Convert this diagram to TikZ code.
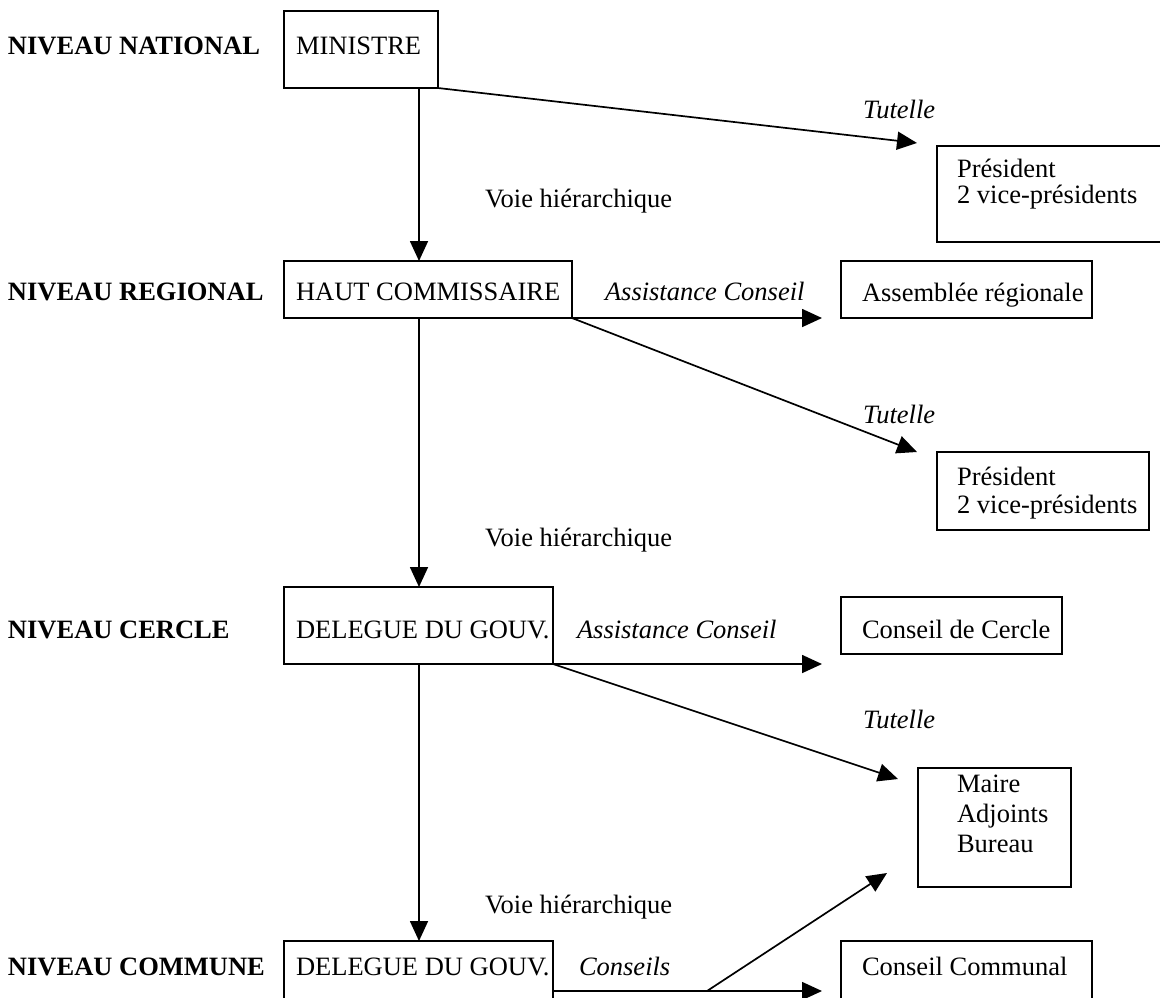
\documentclass[tikz,border=0pt]{standalone}
\usepackage{fontspec}
\setmainfont{Liberation Serif}
\usetikzlibrary{arrows.meta,calc,fit}
\begin{document}
\begin{tikzpicture}[x=0.5pt,y=-0.5pt,
  every node/.style={font=\fontsize{13.25}{15}\selectfont, inner sep=0pt, outer sep=0pt},
  box/.style={draw, line width=0.85pt},
  txt/.style={anchor=base west},
  lvl/.style={anchor=base west, font=\fontsize{13.25}{15}\selectfont\bfseries},
  lab/.style={anchor=base west, font=\fontsize{13.25}{15}\selectfont\itshape},
  arr/.style={line width=0.85pt, -{Triangle[length=10pt,width=9pt]}},
  ln/.style={line width=0.85pt}]
\useasboundingbox (0,0) rectangle (1160,997);
\clip (0,0) rectangle (1160,997);
% boxes
\node[box, fit={(284,11) (438,88)}] (min) {};
\node[box, fit={(284,261) (572,318)}] (hc) {};
\node[box, fit={(284,587) (553,664)}] (dg1) {};
\node[box, fit={(284,941) (553,1018)}] (dg2) {};
\node[box, fit={(937,146) (1180,242)}] (pres1) {};
\node[box, fit={(841,261) (1092,318)}] (ar) {};
\node[box, fit={(937,452) (1149,530)}] (pres2) {};
\node[box, fit={(841,597) (1062,654)}] (cdc) {};
\node[box, fit={(918,768) (1071,887)}] (maire) {};
\node[box, fit={(841,941) (1092,1018)}] (ccom) {};
% level labels
\node[lvl] (l1) at (8,54) {NIVEAU NATIONAL};
\node[lvl] (l2) at (8,300) {NIVEAU REGIONAL};
\node[lvl] (l3) at (8,638) {NIVEAU CERCLE};
\node[lvl] (l4) at (8,975) {NIVEAU COMMUNE};
% box texts
\node[txt] (tmin) at (296,54) {MINISTRE};
\node[txt] (thc) at (296,300) {HAUT COMMISSAIRE};
\node[txt] (tdg1) at (296,638) {DELEGUE DU GOUV.};
\node[txt] (tdg2) at (296,975) {DELEGUE DU GOUV.};
\node[txt] (tp1a) at (957,177) {Président};
\node[txt] (tp1b) at (957,203) {2 vice-présidents};
\node[txt] (tar) at (862,301) {Assemblée régionale};
\node[txt] (tp2a) at (957,485) {Président};
\node[txt] (tp2b) at (957,513) {2 vice-présidents};
\node[txt] (tcdc) at (862,638) {Conseil de Cercle};
\node[txt] (tm1) at (957,792) {Maire};
\node[txt] (tm2) at (957,822) {Adjoints};
\node[txt] (tm3) at (957,852) {Bureau};
\node[txt] (tcc) at (862,975) {Conseil Communal};
% connector labels
\node[txt] (vh1) at (485,207) {Voie hiérarchique};
\node[txt] (vh2) at (485,546) {Voie hiérarchique};
\node[txt] (vh3) at (485,913) {Voie hiérarchique};
\node[lab] (tu1) at (863,118) {Tutelle};
\node[lab] (tu2) at (863,423) {Tutelle};
\node[lab] (tu3) at (863,728) {Tutelle};
\node[lab] (as1) at (605,300) {Assistance Conseil};
\node[lab] (as2) at (577,638) {Assistance Conseil};
\node[lab] (cons) at (579,975) {Conseils};
% free ends
\coordinate (e1) at (917,143);
\coordinate (e2) at (822,318);
\coordinate (e3) at (917,452);
\coordinate (e4) at (822,664);
\coordinate (e5) at (898,779);
\coordinate (e6) at (822,991);
\coordinate (e7) at (887,873);
\coordinate (cs) at ($(dg2.north east)+(0,50)$);
\coordinate (br) at (707,991);
% connectors
\draw[arr] ($(min.south west)+(135,0)$) -- ($(hc.north west)+(135,0)$);
\draw[arr] ($(hc.south west)+(135,0)$) -- ($(dg1.north west)+(135,0)$);
\draw[arr] ($(dg1.south west)+(135,0)$) -- ($(dg2.north west)+(135,0)$);
\draw[arr] (min.south east) -- (e1);
\draw[arr] (hc.south east) -- (e2);
\draw[arr] (hc.south east) -- (e3);
\draw[arr] (dg1.south east) -- (e4);
\draw[arr] (dg1.south east) -- (e5);
\draw[arr] (cs) -- (e6);
\draw[arr] (br) -- (e7);
\end{tikzpicture}
\end{document}
